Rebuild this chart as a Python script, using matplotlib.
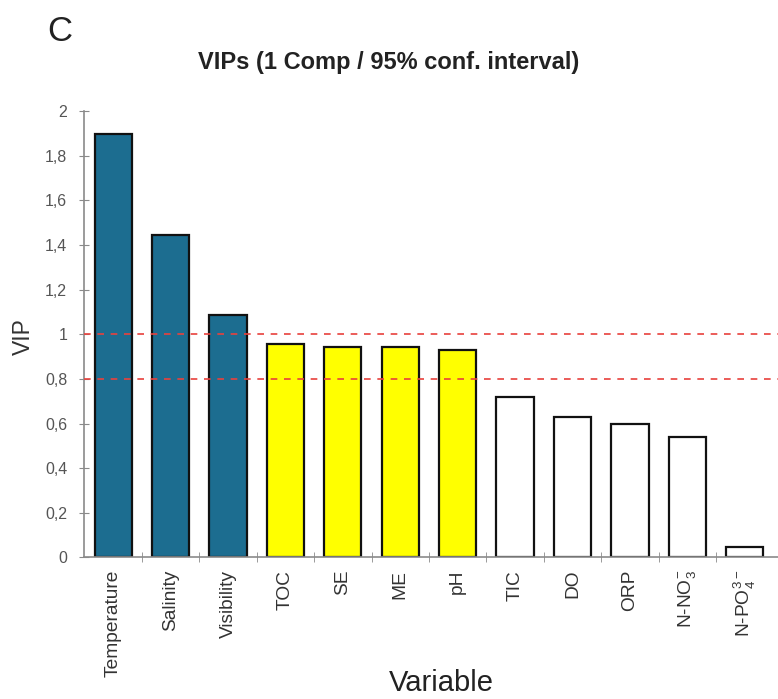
import matplotlib
matplotlib.use("Agg")
import matplotlib.pyplot as plt
from matplotlib.ticker import MultipleLocator, FuncFormatter, FixedLocator
import numpy as np

plt.rcParams["font.family"] = ["Liberation Sans", "DejaVu Sans"]
plt.rcParams["mathtext.fontset"] = "custom"
plt.rcParams["mathtext.rm"] = "Liberation Sans"

# VIP scores per variable (first PLS component)
variables = ["Temperature", "Salinity", "Visibility", "TOC", "SE", "ME", "pH",
             "TIC", "DO", "ORP", r"N-NO$_3^{-}$", r"N-PO$_4^{3-}$"]
vip = [1.90, 1.445, 1.087, 0.955, 0.943, 0.943, 0.93,
       0.72, 0.63, 0.596, 0.538, 0.048]
groups = ["high"] * 3 + ["mid"] * 4 + ["low"] * 5
thresholds = [1.0, 0.8]

group_colors = {"high": "#1c6d90", "mid": "#ffff00", "low": "#ffffff"}

fig = plt.figure(figsize=(7.78, 6.99), dpi=100)
ax = fig.add_axes([0.1086, 0.2027, 0.8914, 0.6381])

x = np.arange(len(variables))
ax.bar(x, vip, width=0.65, color=[group_colors[g] for g in groups],
       edgecolor="#111111", linewidth=1.6, zorder=2)

for t in thresholds:
    ax.axhline(t, color="#e8413c", linestyle=(0, (4, 4)), linewidth=1.2, zorder=3)

ax.set_xlim(-0.5, 11.58)
ax.set_ylim(0, 2)

for side in ["top", "right"]:
    ax.spines[side].set_visible(False)
for side in ["left", "bottom"]:
    ax.spines[side].set_color("#8a8a8a")
    ax.spines[side].set_linewidth(1.2)

ax.yaxis.set_major_locator(MultipleLocator(0.2))
ax.yaxis.set_major_formatter(FuncFormatter(
    lambda v, _: ("%g" % round(v, 1)).replace(".", ",")))
ax.tick_params(axis="y", direction="inout", length=7, color="#8a8a8a",
               labelsize=11.5, labelcolor="#555555", pad=9)

ax.set_xticks(x)
ax.set_xticklabels(variables, rotation=90, fontsize=13.8, color="#333333")
ax.tick_params(axis="x", length=0, pad=9)
ax.xaxis.set_minor_locator(FixedLocator(x[:-1] + 0.5))
ax.tick_params(axis="x", which="minor", direction="inout", length=7,
               color="#8a8a8a")

fig.text(0.030, 0.519, "VIP", rotation=90, ha="center", va="center",
         fontsize=16.5, color="#333333")
fig.text(0.567, 0.023, "Variable", ha="center", va="center",
         fontsize=21, color="#222222")
fig.text(0.499, 0.91, "VIPs (1 Comp / 95% conf. interval)", ha="center",
         va="center", fontsize=17, fontweight="bold", color="#222222")
fig.text(0.077, 0.955, "C", ha="center", va="center", fontsize=25,
         color="#222222")

fig.savefig("out.png", dpi=100)
